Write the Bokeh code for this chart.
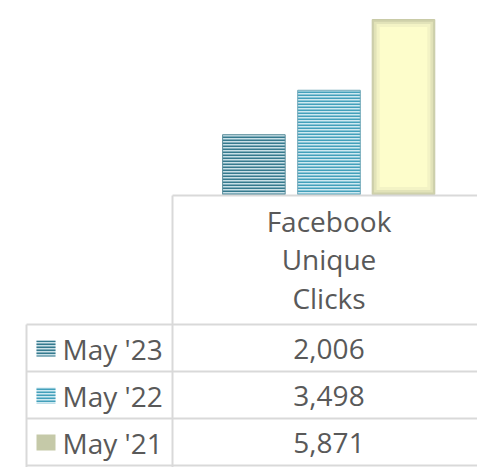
from bokeh.plotting import figure
from bokeh.models import Range1d
from bokeh.core.properties import value
from bokeh.embed import file_html
from bokeh.resources import INLINE

# ---- data ----
series = ["May '23", "May '22", "May '21"]
values = [2006, 3498, 5871]
value_labels = ["2,006", "3,498", "5,871"]
category_lines = ["Facebook", "Unique", "Clicks"]

# ---- styles ----
stripe_dark = ["#357a8e", "#43a0bb", None]
stripe_light = ["#c9e0e7", "#cfe9f1", "#fbfbc8"]
edge_col = ["#5f919e", "#6ea7b7", "#c8caa6"]
key_col = ["#357a8e", "#43a0bb", "#c5c9a8"]
txt = "#595959"
grid = "#d9d9d9"
font = value("Open Sans")

W, H = 477, 467
# category band: px 172..485, baseline at px 194, 0.0298 px per unit
cat_l, cat_w = 172, 313
base_px, ppu = 194, 0.0298
x0 = -0.5 - cat_l / cat_w
x1 = -0.5 + (W - cat_l) / cat_w
y_top = base_px / ppu
y_bot = -(H - base_px) / ppu

p = figure(width=W, height=H, output_backend="svg", toolbar_location=None,
           x_range=Range1d(x0, x1), y_range=Range1d(y_bot, y_top),
           min_border=0, outline_line_color=None, background_fill_color="white",
           border_fill_color="white")
p.axis.visible = False
p.grid.visible = False
p.extra_x_ranges = {"px": Range1d(0, W)}
p.extra_y_ranges = {"px": Range1d(H, 0)}

offs = [-0.24, 0.0, 0.238]
bw = 0.2
for i in range(3):
    if stripe_dark[i]:
        p.vbar(x=[offs[i]], top=[values[i]], bottom=0, width=bw,
               fill_color=stripe_light[i], line_color=edge_col[i], line_width=1,
               hatch_pattern="horizontal_line", hatch_color=stripe_dark[i],
               hatch_scale=3, hatch_weight=2)
    else:
        p.vbar(x=[offs[i]], top=[values[i]], bottom=0, width=bw,
               fill_color="#cfd1ab", line_color=edge_col[i], line_width=1)
        p.vbar(x=[offs[i]], top=[values[i] - 70], bottom=70, width=bw * 0.94,
               fill_color="#e2e3b9", line_color=None)
        p.vbar(x=[offs[i]], top=[values[i] - 150], bottom=150, width=bw * 0.86,
               fill_color="#f3f3c5", line_color=None)
        p.vbar(x=[offs[i]], top=[values[i] - 250], bottom=250, width=bw * 0.76,
               fill_color="#fdfdcb", line_color=None)

# table lines (screen px)
p.segment(x0=[172], y0=[195], x1=[W], y1=[195], line_color=grid, line_width=2,
          x_range_name="px", y_range_name="px")
p.segment(x0=[172, 26], y0=[195, 324], x1=[172, 26], y1=[H, H], line_color=grid,
          line_width=2, x_range_name="px", y_range_name="px")
p.segment(x0=[26] * 4, y0=[324, 371, 418, 465], x1=[W] * 4, y1=[324, 371, 418, 465],
          line_color=grid, line_width=2, x_range_name="px", y_range_name="px")

# header text
p.text(x=[0, 0, 0], y=[220, 258, 297], text=category_lines, y_range_name="px",
       text_font=font, text_font_size="28px", text_color=txt,
       text_align="center", text_baseline="middle")

# value cells
row_y = [348, 395, 442]
p.text(x=[0] * 3, y=row_y, text=value_labels, y_range_name="px",
       text_font=font, text_font_size="28px", text_color=txt,
       text_align="center", text_baseline="middle")

# legend keys + labels
for i in range(3):
    if stripe_dark[i]:
        p.rect(x=[45.5], y=[row_y[i]], width=19, height=16, x_range_name="px", y_range_name="px",
               fill_color=stripe_light[i], line_color=None,
               hatch_pattern="horizontal_line", hatch_color=stripe_dark[i],
               hatch_scale=3, hatch_weight=2)
    else:
        p.rect(x=[45.5], y=[row_y[i]], width=19, height=16, x_range_name="px", y_range_name="px",
               fill_color=key_col[i], line_color=None)
p.text(x=[62] * 3, y=row_y, text=series, x_range_name="px", y_range_name="px",
       text_font=font, text_font_size="28px", text_color=txt,
       text_align="left", text_baseline="middle")

open("out.html", "w").write(file_html(p, INLINE))
